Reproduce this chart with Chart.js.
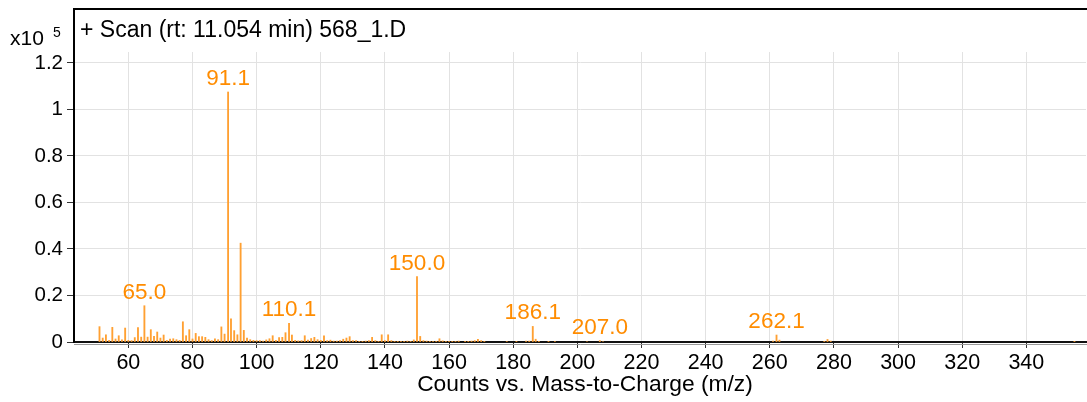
<!DOCTYPE html>
<html>
<head>
<meta charset="utf-8">
<title>Scan 568_1.D</title>
<script src="https://cdn.jsdelivr.net/npm/chart.js@4.4.1/dist/chart.umd.min.js"></script>
<style>
    html, body { margin: 0; padding: 0; background: #fff; }
    #wrap { position: relative; width: 1087px; height: 402px; }
</style>
</head>
<body>
<div id="wrap"><canvas id="spectrum"></canvas></div>
<script>
// Mass spectrum, + Scan (rt: 11.054 min) 568_1.D
// m/z of each peak and its abundance (x10^5 counts)
const mzValues = [
    51, 52, 53, 54, 55, 56, 57, 58, 59, 60,
    61, 62, 63, 64, 65.0, 66, 67, 68, 69, 70,
    71, 72, 73, 74, 75, 76, 77, 78, 79, 80,
    81, 82, 83, 84, 85, 86, 87, 88, 89, 90,
    91.1, 92, 93, 94, 95, 96, 97, 98, 99, 100,
    101, 102, 103, 104, 105, 106, 107, 108, 109, 110.1,
    111, 112, 113, 114, 115, 116, 117, 118, 119, 120,
    121, 122, 123, 124, 125, 126, 127, 128, 129, 130,
    131, 132, 133, 134, 135, 136, 137, 138, 139, 140,
    141, 142, 143, 144, 145, 146, 147, 148, 149, 150.0,
    151, 152, 153, 154, 155, 156, 157, 158, 159, 160,
    161, 162, 163, 165, 166, 167, 168, 169, 170, 171,
    178, 181, 184, 185, 186.1, 187, 188, 191, 193, 203,
    207.0, 208, 261, 262.1, 263, 277, 278, 279, 355
];
const abundance = [
    0.066, 0.017, 0.031, 0.007, 0.063, 0.013, 0.027, 0.009, 0.060, 0.007,
    0.006, 0.019, 0.062, 0.021, 0.156, 0.021, 0.053, 0.024, 0.043, 0.017,
    0.030, 0.007, 0.013, 0.014, 0.010, 0.007, 0.087, 0.027, 0.053, 0.013,
    0.037, 0.023, 0.023, 0.020, 0.010, 0.006, 0.014, 0.010, 0.065, 0.034,
    1.075, 0.100, 0.049, 0.031, 0.425, 0.050, 0.017, 0.010, 0.007, 0.006,
    0.006, 0.004, 0.009, 0.014, 0.027, 0.007, 0.019, 0.020, 0.040, 0.080,
    0.030, 0.007, 0.005, 0.006, 0.027, 0.008, 0.015, 0.020, 0.010, 0.007,
    0.027, 0.006, 0.008, 0.004, 0.004, 0.006, 0.012, 0.017, 0.023, 0.006,
    0.006, 0.003, 0.003, 0.004, 0.006, 0.020, 0.006, 0.003, 0.031, 0.006,
    0.031, 0.006, 0.003, 0.003, 0.003, 0.003, 0.004, 0.003, 0.009, 0.281,
    0.024, 0.006, 0.004, 0.003, 0.003, 0.003, 0.014, 0.005, 0.003, 0.003,
    0.003, 0.003, 0.004, 0.003, 0.003, 0.004, 0.006, 0.011, 0.006, 0.003,
    0.002, 0.003, 0.004, 0.004, 0.067, 0.012, 0.003, 0.003, 0.002, 0.002,
    0.006, 0.002, 0.004, 0.030, 0.008, 0.003, 0.011, 0.004, 0.003
];
// peaks that get their m/z printed above them
const labeledPeaks = [91.1, 65.0, 110.1, 150.0, 186.1, 207.0, 262.1];

const xTicks = [60, 80, 100, 120, 140, 160, 180, 200, 220, 240, 260, 280, 300, 320, 340];
const yTicks = [0, 0.2, 0.4, 0.6, 0.8, 1, 1.2];

const FONT = "'Liberation Sans', Arial, sans-serif";
const ORANGE = '#ff8c00';

// frame, scan title, exponent and axis title
const decorations = {
    id: 'decorations',
    afterDraw(chart) {
        const ctx = chart.ctx;
        const area = chart.chartArea;
        ctx.save();
        ctx.strokeStyle = '#000';
        ctx.lineWidth = 2;
        ctx.beginPath();
        ctx.moveTo(area.left, area.bottom);
        ctx.lineTo(area.left, 9);
        ctx.lineTo(chart.width, 9);
        ctx.stroke();

        ctx.strokeStyle = '#9a9a9a';
        ctx.lineWidth = 1;
        ctx.beginPath();
        ctx.moveTo(area.left, area.bottom + 2.5);
        ctx.lineTo(chart.width, area.bottom + 2.5);
        ctx.stroke();

        ctx.fillStyle = '#000';
        ctx.textBaseline = 'alphabetic';
        ctx.textAlign = 'left';
        ctx.font = '23px ' + FONT;
        ctx.fillText('+ Scan (rt: 11.054 min) 568_1.D', 80, 37);
        ctx.font = '21px ' + FONT;
        ctx.fillText('x10', 10, 45);
        ctx.font = '14px ' + FONT;
        ctx.fillText('5', 53, 37);

        ctx.textAlign = 'center';
        ctx.font = '22.8px ' + FONT;
        ctx.fillText('Counts vs. Mass-to-Charge (m/z)', 585, 391);
        ctx.restore();
    },
    afterDatasetsDraw(chart) {
        const ctx = chart.ctx;
        const meta = chart.getDatasetMeta(0);
        ctx.save();
        ctx.fillStyle = ORANGE;
        ctx.font = '22.5px ' + FONT;
        ctx.textAlign = 'center';
        ctx.textBaseline = 'alphabetic';
        labeledPeaks.forEach(mz => {
            const i = mzValues.indexOf(mz);
            const bar = meta.data[i];
            ctx.fillText(mz.toFixed(1), bar.x, bar.y - 7);
        });
        ctx.restore();
    }
};

const ctx = document.getElementById('spectrum').getContext('2d');
new Chart(ctx, {
    type: 'bar',
    data: {
        datasets: [{
            data: mzValues.map((mz, i) => ({ x: mz, y: abundance[i] })),
            backgroundColor: 'rgb(255, 160, 50)',
            borderWidth: 0,
            barThickness: 1.2
        }]
    },
    options: {
        responsive: true,
        maintainAspectRatio: false,
        animation: false,
        layout: { padding: { top: 52, right: 1, left: 0, bottom: 0 } },
        plugins: {
            legend: { display: false },
            tooltip: { enabled: false }
        },
        scales: {
            x: {
                type: 'linear',
                min: 43.05,
                max: 358.6,
                offset: false,
                afterBuildTicks: axis => { axis.ticks = xTicks.map(v => ({ value: v })); },
                afterFit: axis => { axis.height = 60; },
                grid: {
                    offset: false,
                    color: '#e2e2e2',
                    tickColor: '#333',
                    tickLength: 6
                },
                border: { color: '#111', width: 2 },
                ticks: {
                    color: '#000',
                    font: { family: FONT, size: 21.5 },
                    padding: 2,
                    maxRotation: 0
                }
            },
            y: {
                min: 0,
                max: 1.247,
                afterBuildTicks: axis => { axis.ticks = yTicks.map(v => ({ value: v })); },
                afterFit: axis => { axis.width = 74; },
                grid: {
                    color: '#e2e2e2',
                    tickColor: '#333',
                    tickLength: 7
                },
                border: { color: '#000', width: 2 },
                ticks: {
                    color: '#000',
                    font: { family: FONT, size: 20.5 },
                    padding: 4,
                    callback: value => String(value)
                }
            }
        }
    },
    plugins: [decorations]
});
</script>
</body>
</html>
